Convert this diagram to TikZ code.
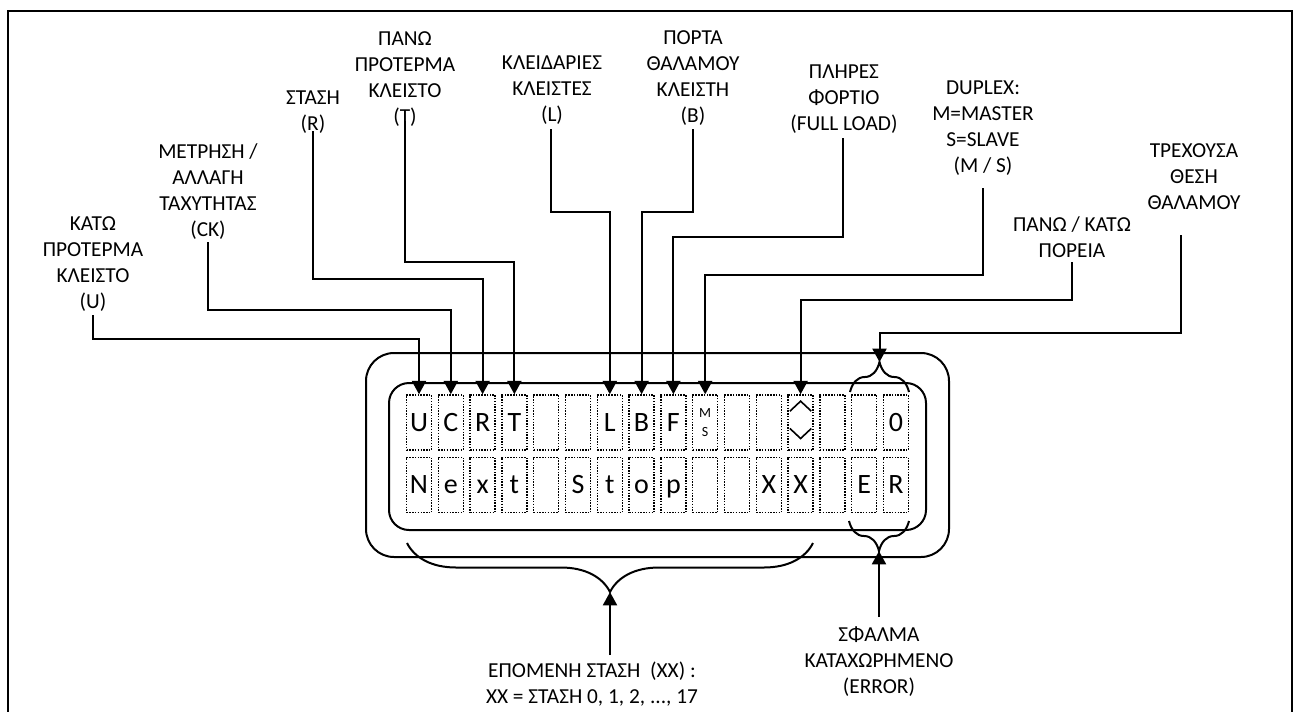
\documentclass[tikz,border=0pt]{standalone}
\usepackage{fontspec}
\setmainfont{Carlito}
\usetikzlibrary{arrows.meta,decorations.pathreplacing}
\begin{document}
\begin{tikzpicture}[x=0.75pt,y=-0.75pt,
  lbl/.style={align=center,font=\fontsize{16}{19.5}\selectfont,inner sep=0pt,anchor=north},
  cellbox/.style={draw,densely dotted,line width=1.1pt,minimum width=18.75pt,minimum height=41.25pt,
     inner sep=0pt,text height=13.4pt,text depth=0pt,font=\fontsize{21}{22}\selectfont},
  wire/.style={line width=1.5pt},
  arr/.style={wire,-{Triangle[width=10.5pt,length=10pt]}},
  bracedeco/.style={wire,decorate,decoration={brace,amplitude=#1}},
  ]
\useasboundingbox (0,0) rectangle (1293,711);
% outer frame (open at the bottom)
\draw[line width=1.8pt] (8,730) -- (8,11) -- (1292,11) -- (1292,730);

% display housing
\draw[wire,rounded corners=21pt] (366,353) rectangle (949,557);
\draw[wire,rounded corners=15pt] (389,383) rectangle (926,530);

% cells
\foreach \t [count=\k] in {U,C,R,T,{},{},L,B,F,{},{},{},{},{},{},0}
  \node[cellbox] (r1c\k) at ({419+(\k-1)*31.8},422.5) {\t};
\foreach \t [count=\k] in {N,e,x,t,{},S,t,o,p,{},{},X,X,{},E,R}
  \node[cellbox] (r2c\k) at ({419+(\k-1)*31.8},485) {\t};
\node[align=center,inner sep=0pt,font=\fontsize{10.5}{14}\selectfont] (ms) at (r1c10) {M\\S};
\draw[line width=1.2pt] ([xshift=-8pt,yshift=-4.5pt]r1c13.center) -- ([yshift=-12pt]r1c13.center) -- ([xshift=8pt,yshift=-4.5pt]r1c13.center);
\draw[line width=1.2pt] ([xshift=-8pt,yshift=8.5pt]r1c13.center) -- ([yshift=16pt]r1c13.center) -- ([xshift=8pt,yshift=8.5pt]r1c13.center);

% labels
\node[lbl] (lU)  at (93,216)  {ΚΑΤΩ\\ΠΡΟΤΕΡΜΑ\\ΚΛΕΙΣΤΟ\\(U)};
\node[lbl] (lCK) at (208,143) {ΜΕΤΡΗΣΗ /\\ΑΛΛΑΓΗ\\ΤΑΧΥΤΗΤΑΣ\\(CK)};
\node[lbl] (lR)  at (313,91)  {ΣΤΑΣΗ\\(R)};
\node[lbl] (lT)  at (405,31)  {ΠΑΝΩ\\ΠΡΟΤΕΡΜΑ\\ΚΛΕΙΣΤΟ\\(T)};
\node[lbl] (lL)  at (552,56)  {ΚΛΕΙΔΑΡΙΕΣ\\ΚΛΕΙΣΤΕΣ\\(L)};
\node[lbl] (lB)  at (693,30)  {ΠΟΡΤΑ\\ΘΑΛΑΜΟΥ\\ΚΛΕΙΣΤΗ\\(B)};
\node[lbl] (lF)  at (844,65)  {ΠΛΗΡΕΣ\\ΦΟΡΤΙΟ\\(FULL LOAD)};
\node[lbl] (lMS) at (983,81)  {DUPLEX:\\M=MASTER\\S=SLAVE\\(M / S)};
\node[lbl] (lUD) at (1072,216) {ΠΑΝΩ / ΚΑΤΩ\\ΠΟΡΕΙΑ};
\node[lbl] (lCur) at (1194,143) {ΤΡΕΧΟΥΣΑ\\ΘΕΣΗ\\ΘΑΛΑΜΟΥ};
\node[lbl] (lNext) at (592,662) {ΕΠΟΜΕΝΗ ΣΤΑΣΗ \ (XX) :\\XX = ΣΤΑΣΗ 0, 1, 2, ..., 17};
\node[lbl] (lErr) at (879,626) {ΣΦΑΛΜΑ\\ΚΑΤΑΧΩΡΗΜΕΝΟ\\(ERROR)};

% wire start points
\coordinate (sU) at (93,315);
\coordinate (sCK) at (208,242);
\coordinate (sR) at (313,131);
\coordinate (sT) at (405,121);
\coordinate (sL) at (551,129);
\coordinate (sB) at (693,129);
\coordinate (sF) at (843,138);
\coordinate (sMS) at (983,188);
\coordinate (sUD) at (1072,262);
\coordinate (sCur) at (1181,235);
\coordinate (sNext) at (610,655);
\coordinate (sErr) at (879,617);

% braces
\coordinate (tb1) at (850,392); \coordinate (tb2) at (909,392);
\coordinate (topTip) at (879.5,362);
\draw[bracedeco=22.5pt] (tb1) -- (tb2);
\coordinate (bb1) at (813,543); \coordinate (bb2) at (407,543);
\coordinate (bigTip) at (610,592);
\draw[bracedeco=36.75pt] (bb1) -- (bb2);
\coordinate (eb1) at (909,521); \coordinate (eb2) at (849,521);
\coordinate (errTip) at (879,551);
\draw[bracedeco=22.5pt] (eb1) -- (eb2);

% connectors
\draw[arr] (sU)  -- ++(0,24)  -| (r1c1.north);
\draw[arr] (sCK) -- ++(0,68)  -| (r1c2.north);
\draw[arr] (sR)  -- ++(0,148) -| (r1c3.north);
\draw[arr] (sT)  -- ++(0,141) -| (r1c4.north);
\draw[arr] (sL)  -- ++(0,83)  -| (r1c7.north);
\draw[arr] (sB)  -- ++(0,83)  -| (r1c8.north);
\draw[arr] (sF)  -- ++(0,99)  -| (r1c9.north);
\draw[arr] (sMS) -- ++(0,87)  -| (r1c10.north);
\draw[arr] (sUD) -- ++(0,38)  -| (r1c13.north);
\draw[arr] (sCur) -- ++(0,98) -| (topTip);
\draw[arr] (sNext) -- (bigTip);
\draw[arr] (sErr) -- (errTip);
\end{tikzpicture}
\end{document}
